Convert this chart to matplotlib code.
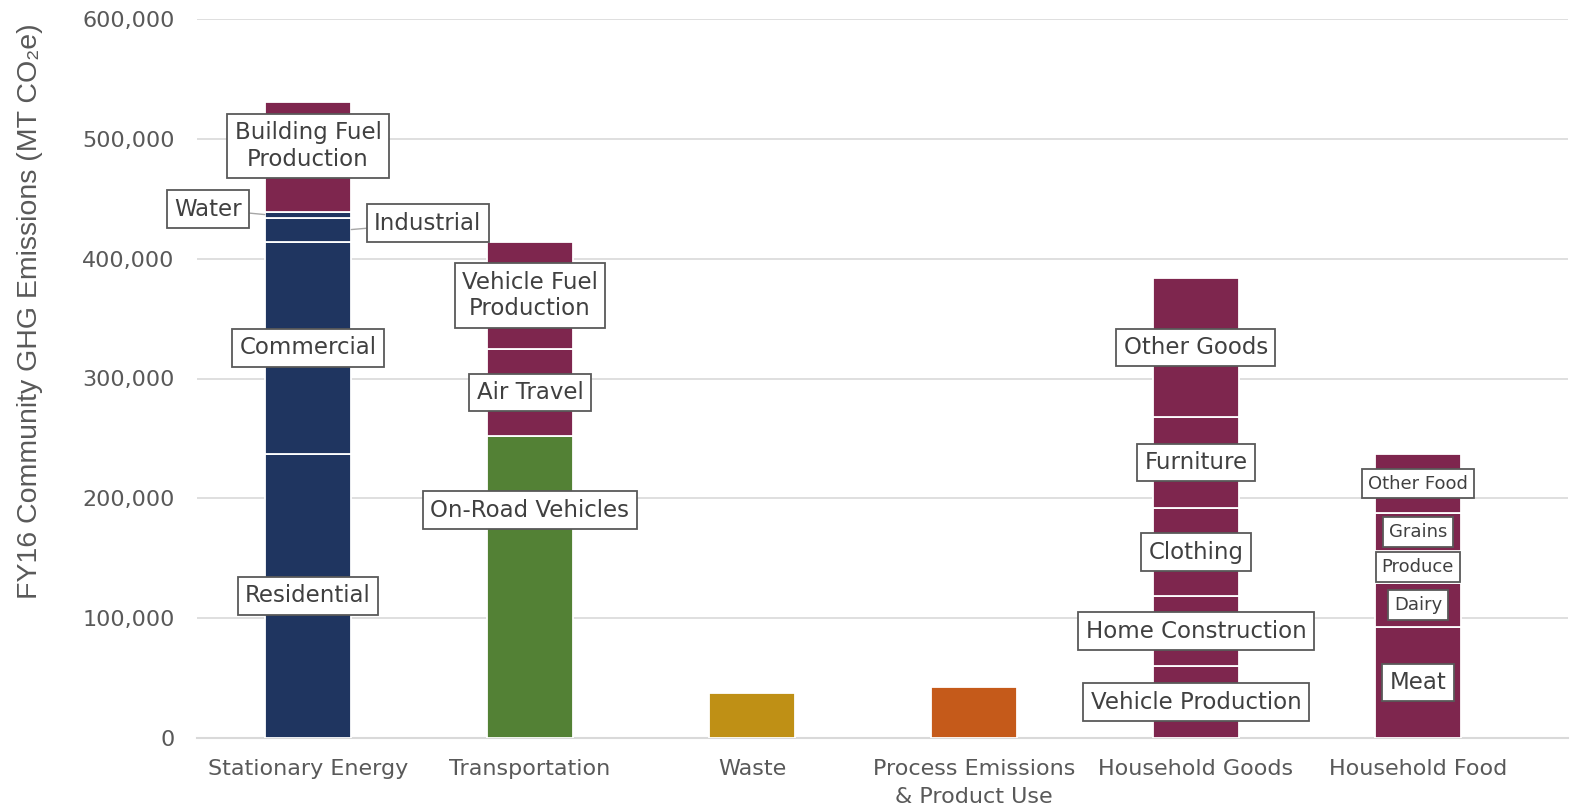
import matplotlib
matplotlib.use("Agg")
import matplotlib.pyplot as plt
import numpy as np

# ---------------- data ----------------
categories = ['Stationary Energy', 'Transportation', 'Waste',
              'Process Emissions\n& Product Use', 'Household Goods', 'Household Food']

stationary_labels = ['Residential', 'Commercial', 'Industrial', 'Water', 'Building Fuel\nProduction']
stationary_values = [237000, 177300, 20000, 5000, 91400]

transport_labels = ['On-Road Vehicles', 'Air Travel', 'Vehicle Fuel\nProduction']
transport_values = [252000, 72600, 89300]

waste_labels = ['']
waste_values = [37500]

process_labels = ['']
process_values = [42500]

goods_labels = ['Vehicle Production', 'Home Construction', 'Clothing', 'Furniture', 'Other Goods']
goods_values = [60000, 58400, 73400, 76000, 116000]

food_labels = ['Meat', 'Dairy', 'Produce', 'Grains', 'Other Food']
food_values = [92600, 36700, 26700, 31700, 49000]

yticks = [0, 100000, 200000, 300000, 400000, 500000, 600000]

# ---------------- styling ----------------
NAVY = '#1F3560'
MAROON = '#7E264E'
GREEN = '#538135'
GOLD = '#BF9015'
ORANGE = '#C55A1A'

stationary_colors = [NAVY, NAVY, NAVY, NAVY, MAROON]
transport_colors = [GREEN, MAROON, MAROON]
goods_colors = [MAROON] * 5
food_colors = [MAROON] * 5

stacks = [
    (stationary_labels, stationary_values, stationary_colors),
    (transport_labels, transport_values, transport_colors),
    (waste_labels, waste_values, [GOLD]),
    (process_labels, process_values, [ORANGE]),
    (goods_labels, goods_values, goods_colors),
    (food_labels, food_values, food_colors),
]

# label placement tweaks: (x offset in category units, y offset in data units, leader)
label_tweaks = {
    'Building Fuel\nProduction': (0.0, 9000, False),
    'On-Road Vehicles': (0.0, 64000, False),
    'Water': (-0.45, 4500, True),
    'Industrial': (0.54, 5400, True),
}
small_labels = {'Other Food', 'Grains', 'Produce', 'Dairy'}

TEXT = '#404040'
GRAY = '#595959'

fig = plt.figure(figsize=(15.7, 8.1), dpi=100)
ax = fig.add_axes([197 / 1570, 72 / 810, (1568 - 197) / 1570, (738 - 19) / 810])

bar_w = 0.39
x = np.arange(len(categories))
for i, (labs, vals, cols) in enumerate(stacks):
    bottom = 0
    for lab, v, c in zip(labs, vals, cols):
        ax.bar(x[i], v, bottom=bottom, width=bar_w, color=c, edgecolor='white',
               linewidth=1.3, zorder=3)
        if lab:
            cy = bottom + v / 2
            dx, dy, leader = label_tweaks.get(lab, (0.0, 0, False))
            fs = 13 if lab in small_labels else 16.5
            bbox = dict(boxstyle='square,pad=0.32', fc='white', ec=GRAY, lw=1.3)
            if leader:
                edge_x = x[i] - bar_w / 2 if dx < 0 else x[i] + bar_w / 2
                ax.annotate(lab, xy=(edge_x, cy), xytext=(x[i] + dx, cy + dy),
                            ha='center', va='center', fontsize=fs, color=TEXT,
                            bbox=bbox, zorder=5,
                            arrowprops=dict(arrowstyle='-', color='#A6A6A6', lw=1.0,
                                            shrinkA=0, shrinkB=0))
            else:
                ax.text(x[i] + dx, cy + dy, lab, ha='center', va='center',
                        fontsize=fs, color=TEXT, bbox=bbox, zorder=5,
                        linespacing=1.2)
        bottom += v

ax.set_xlim(-0.5, 5.676)
ax.set_ylim(0, 600000)
ax.set_yticks(yticks)
ax.set_yticklabels([f'{t:,}' for t in yticks], fontsize=16, color=GRAY)
ax.set_xticks(x)
ax.set_xticklabels(categories, fontsize=16, color=GRAY, linespacing=1.5)
ax.tick_params(axis='both', length=0)
ax.tick_params(axis='y', pad=16)
ax.tick_params(axis='x', pad=15)
ax.grid(axis='y', color='#D9D9D9', lw=1.2, zorder=0)
for s in ['top', 'right', 'left']:
    ax.spines[s].set_visible(False)
ax.spines['bottom'].set_color('#D9D9D9')
ax.spines['bottom'].set_linewidth(1.5)
ax.set_axisbelow(True)

fig.text(30 / 1570, 1 - 311 / 810, 'FY16 Community GHG Emissions (MT CO\u2082e)',
         rotation=90, ha='center', va='center', fontsize=20.5,
         family=['Liberation Sans', 'DejaVu Sans'], color=GRAY)

fig.savefig('out.png', dpi=100)
